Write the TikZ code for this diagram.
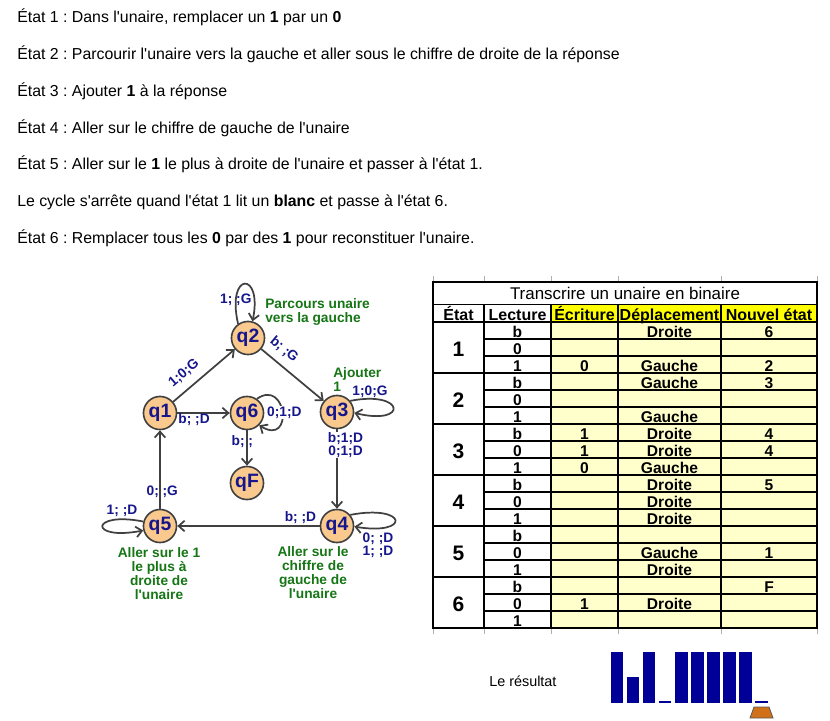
\documentclass[tikz,border=0pt]{standalone}
\usepackage{fontspec}
\setmainfont{Liberation Sans}[Ligatures=TeXOff]
\usetikzlibrary{arrows.meta}
\definecolor{nodefill}{RGB}{250,201,142}
\definecolor{edgecol}{RGB}{64,64,64}
\definecolor{lblblue}{RGB}{22,22,140}
\definecolor{grn}{RGB}{22,118,22}
\definecolor{ylight}{RGB}{255,255,204}
\definecolor{yhead}{RGB}{255,255,0}
\definecolor{barblue}{RGB}{0,0,150}
\definecolor{headorange}{RGB}{208,112,24}
\definecolor{gridgray}{RGB}{175,175,175}
\frenchspacing
\begin{document}
\begin{tikzpicture}[x=0.75pt,y=-0.75pt,
  state/.style={circle,draw=edgecol,line width=1.2pt,fill=nodefill,minimum size=24.8pt,inner sep=0pt,
     font=\fontsize{14.5}{15}\selectfont\bfseries,text=lblblue},
  trans/.style={draw=edgecol,line width=1.3pt,-{Straight Barb[length=4.5pt,width=8pt]}},
  elab/.style={font=\fontsize{10.3}{9.6}\selectfont\bfseries,text=lblblue,inner sep=0.5pt,align=center},
  note/.style={font=\fontsize{10.3}{10.4}\selectfont\bfseries,text=grn,inner sep=0pt},
  para/.style={anchor=base west,font=\fontsize{11.9}{13}\selectfont,inner sep=0pt},
  cell/.style={anchor=base,font=\fontsize{11.7}{12}\selectfont\bfseries,inner sep=0pt},
  hcell/.style={anchor=base,font=\fontsize{12}{12}\selectfont\bfseries,inner sep=0pt},
  bignum/.style={anchor=base,font=\fontsize{15.75}{16}\selectfont\bfseries,inner sep=0pt},
  tline/.style={draw=black,line width=0.8pt},
  gline/.style={draw=gridgray,line width=0.6pt}
]
\useasboundingbox[fill=white] (0,0) rectangle (830,720);

% ---------- explanatory text ----------
\node[para] (p1) at (17,22.7) {État 1 : Dans l'unaire, remplacer un \textbf{1} par un \textbf{0}};
\node[para] (p2) at (17,59.7) {État 2 : Parcourir l'unaire vers la gauche et aller sous le chiffre de droite de la réponse};
\node[para] (p3) at (17,96.7) {État 3 : Ajouter \textbf{1} à la réponse};
\node[para] (p4) at (17,133.7) {État 4 : Aller sur le chiffre de gauche de l'unaire};
\node[para] (p5) at (17,169.7) {État 5 : Aller sur le \textbf{1} le plus à droite de l'unaire et passer à l'état 1.};
\node[para] (p6) at (17,206.7) {Le cycle s'arrête quand l'état 1 lit un \textbf{blanc} et passe à l'état 6.};
\node[para] (p7) at (17,243.7) {État 6 : Remplacer tous les \textbf{0} par des \textbf{1} pour reconstituer l'unaire.};

% ---------- state diagram ----------
\node[state] (q1) at (160,413) {q1};
\node[state] (q2) at (248,338) {q2};
\node[state] (q6) at (247,413) {q6};
\node[state] (q3) at (337,412) {q3};
\node[state] (qF) at (247,483) {qF};
\node[state] (q5) at (160,526) {q5};
\node[state] (q4) at (337,526) {q4};

\draw[trans] (q1) -- node[elab,sloped,above=5.5pt,pos=0.33] (l12) {1;0;G} (q2);
\draw[trans] (q2) -- node[elab,sloped,above=5pt,pos=0.22] (l23) {b; ;G} (q3);
\draw[trans] (q1) -- node[elab,below=-0.5pt,pos=0.32] (l16) {b; ;D} (q6);
\draw[trans] (q6) -- node[elab,pos=0.31,xshift=-3.5pt] (l6F) {b; ;} (qF);
\draw[trans] (q3) -- node[elab,fill=white,pos=0.2,xshift=6.4pt] (l34) {b;1;D\\0;1;D} (q4);
\draw[trans] (q4) -- node[elab,above=1pt,pos=0.135] (l45) {b; ;D} (q5);
\draw[trans] (q5) -- node[elab,pos=0.22,xshift=1.7pt] (l51) {0; ;G} (q1);

\draw[trans] (q2.125) .. controls (226,271) and (263,271) .. node[elab,pos=0.19] (l22) {1; ;G} (q2.75);
\draw[trans] (q6.55) .. controls (287,378) and (294,447) .. node[elab,fill=white,pos=0.5,xshift=1.5pt] (l66) {0;1;D} (q6.-45);
\draw[trans] (q3.40) .. controls (405,390) and (409,426) .. (q3.-3);
\node[elab] (l33) at (370,392) {1;0;G};
\draw[trans] (q4.40) .. controls (408,504) and (411,536) .. (q4.-2);
\node[elab] (l44) at (378,545) {0; ;D\\1; ;D};
\draw[trans] (q5.165) .. controls (90,511) and (88,541) .. (q5.195);
\node[elab] (l55) at (122,511) {1; ;D};

\node[note,anchor=west,align=left] (n2) at (265,312) {Parcours unaire\\vers la gauche};
\node[note,anchor=west,align=left] (n3) at (333,379.5) {Ajouter\\1};
\node[note,align=center] (n5) at (159,573.5) {Aller sur le 1\\le plus à\\droite de\\l'unaire};
\node[note,align=center] (n4) at (313,572.5) {Aller sur le\\chiffre de\\gauche de\\l'unaire};

% ---------- table ----------
\foreach \gx in {433,484,551,618,721,817} {
  \draw[gline] (\gx,276) -- (\gx,282);
  \draw[gline] (\gx,628) -- (\gx,634);
}
\fill[ylight] (551,322) rectangle (817,628);
\fill[yhead] (551,305) rectangle (817,322);
\draw[tline] (433,282) rectangle (817,628);
\draw[tline] (433,304.5) -- (817,304.5);
\draw[tline] (433,322) -- (817,322);
\foreach \gx in {484,551,618,721} \draw[tline] (\gx,304.5) -- (\gx,628);
\foreach \r in {1,...,17} {
  \pgfmathtruncatemacro\m{mod(\r,3)}
  \ifnum\m=0
    \draw[tline] (433,{322+17*\r}) -- (817,{322+17*\r});
  \else
    \draw[tline] (484,{322+17*\r}) -- (817,{322+17*\r});
  \fi
}
\node[anchor=base,font=\fontsize{12.7}{13}\selectfont,inner sep=0pt] (title) at (625,299.7) {Transcrire un unaire en binaire};
\node[hcell] (hE) at (458.5,320.3) {État};
\node[hcell] (hL) at (517.5,320.3) {Lecture};
\node[hcell] (hW) at (584.5,320.3) {Écriture};
\node[hcell] (hD) at (669.5,320.3) {Déplacement};
\node[hcell] (hN) at (769,320.3) {Nouvel état};
\foreach \k in {1,...,6} \node[bignum] (e\k) at (458.5,{322+51*(\k-1)+34.5}) {\k};
\foreach \r in {0,...,17} {
  \pgfmathtruncatemacro\m{mod(\r,3)}
  \node[cell] (lec\r) at (517.5,{322+17*\r+15.2}) {\ifcase\m b\or 0\or 1\fi};
}
\foreach \r/\t in {2/0,6/1,7/1,8/0,16/1}
  \node[cell] (ecr\r) at (584.5,{322+17*\r+15.2}) {\t};
\foreach \r/\t in {0/Droite,2/Gauche,3/Gauche,5/Gauche,6/Droite,7/Droite,8/Gauche,9/Droite,10/Droite,11/Droite,13/Gauche,14/Droite,16/Droite}
  \node[cell] (dep\r) at (669.5,{322+17*\r+15.2}) {\t};
\foreach \r/\t in {0/6,2/2,3/3,6/4,7/4,9/5,13/1,15/F}
  \node[cell] (nou\r) at (769,{322+17*\r+15.2}) {\t};

% ---------- result tape ----------
\node[anchor=base west,font=\fontsize{10.8}{12}\selectfont,inner sep=0pt] (res) at (489,686.7) {Le résultat};
\foreach \i in {0,2,4,5,6,7,8}
  \fill[barblue] ({610.7+16.05*\i},652) rectangle ++(12.6,51);
\fill[barblue] ({610.7+16.05},677) rectangle ++(12.6,26);
\foreach \i in {3,9}
  \fill[barblue] ({610.7+16.05*\i},701) rectangle ++(12.6,2.2);
\draw[fill=headorange,draw=black!65,line width=0.6pt] (754,707) -- (769,707) -- (773,718) -- (750,718) -- cycle;
\end{tikzpicture}
\end{document}
